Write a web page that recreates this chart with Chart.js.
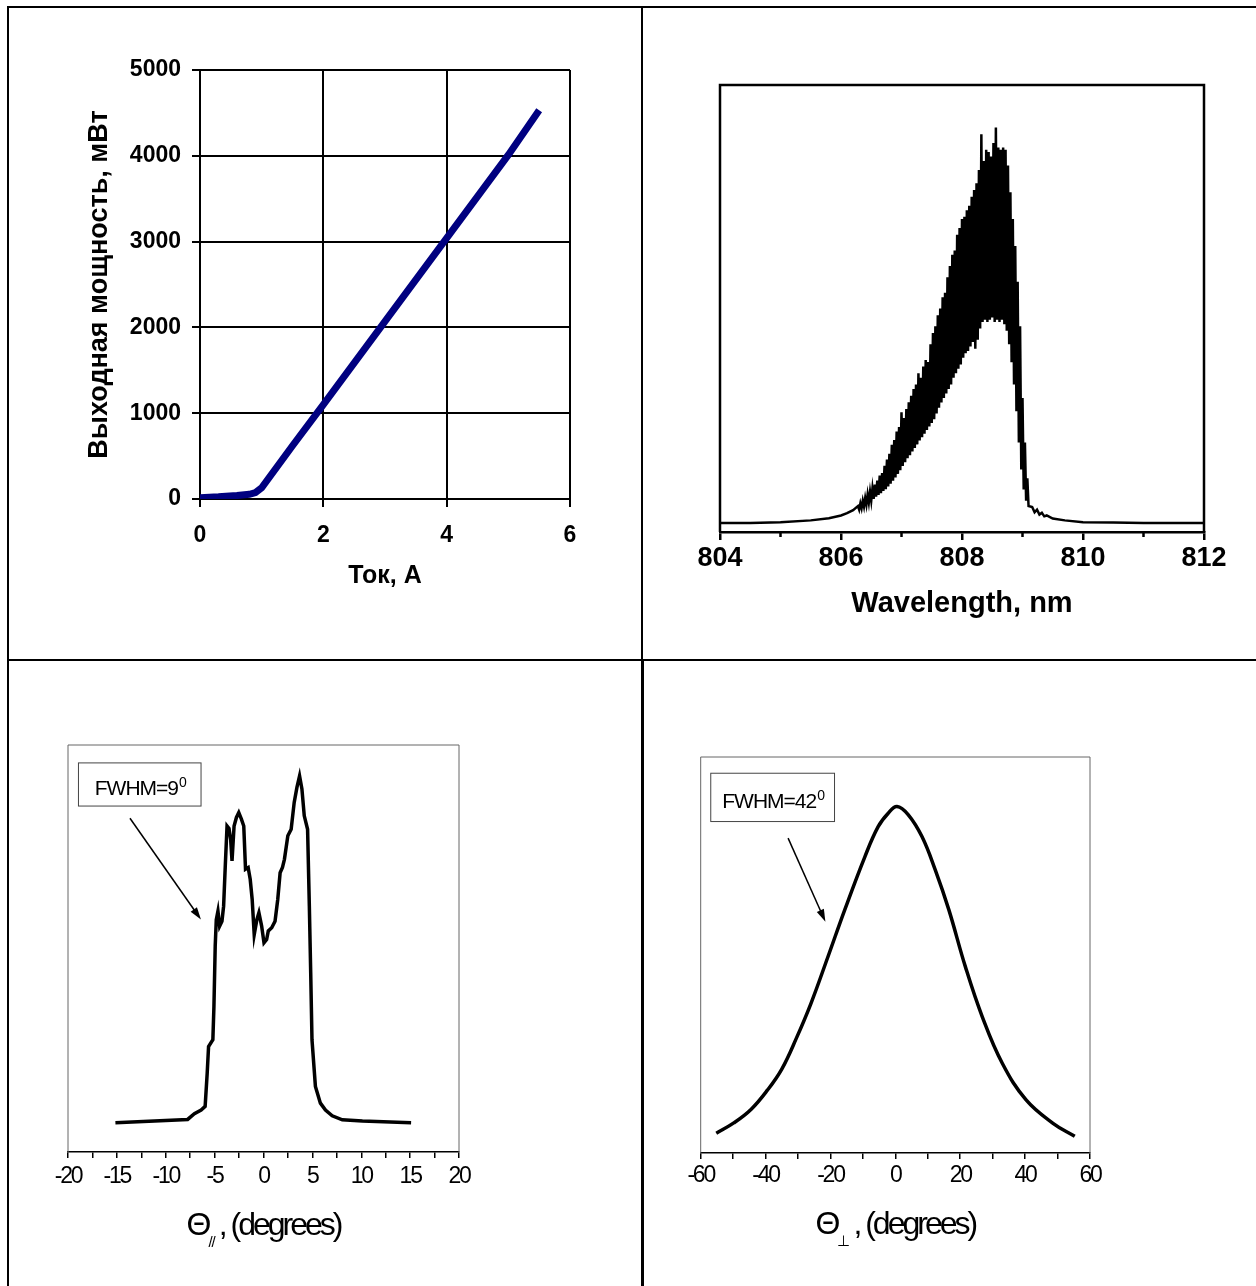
<!DOCTYPE html>
<html>
<head>
<meta charset="utf-8">
<script src="https://cdn.jsdelivr.net/npm/chart.js@4.4.1/dist/chart.umd.min.js"></script>
<style>
  html, body { margin: 0; background: #fff; overflow: hidden; }
  .rule { position: absolute; background: #000; }
  .cell { position: absolute; }
</style>
</head>
<body>
<div class="rule" style="left:7px;top:6px;width:1249px;height:2px"></div>
<div class="rule" style="left:7px;top:6px;width:2px;height:1280px"></div>
<div class="rule" style="left:641px;top:6px;width:2px;height:653px"></div>
<div class="rule" style="left:641px;top:659px;width:3px;height:627px"></div>
<div class="rule" style="left:7px;top:659px;width:1249px;height:2px"></div>

<div class="cell" style="left:9px;top:8px;width:632px;height:651px"><canvas id="lic"></canvas></div>
<div class="cell" style="left:643px;top:8px;width:613px;height:651px"><canvas id="spectrum"></canvas></div>
<div class="cell" style="left:9px;top:661px;width:632px;height:625px"><canvas id="farPar"></canvas></div>
<div class="cell" style="left:644px;top:661px;width:612px;height:625px"><canvas id="farPerp"></canvas></div>

<script>
// L-I curve
const currentA = [0, 0.3, 0.6, 0.8, 0.9, 1.0, 1.5, 2, 3, 4, 5, 5.5]
const powerMW = [15, 25, 40, 55, 75, 130, 620, 1100, 2070, 3040, 4010, 4530]

// spectrum (relative units), fringes sampled every 0.02 nm
const specWl = [804.0, 804.5, 805.0, 805.5, 805.8, 806.0, 806.1, 806.2,
  806.28, 806.30, 806.32, 806.34, 806.36, 806.38, 806.40, 806.42, 806.44, 806.46,
  806.48, 806.50, 806.52, 806.54, 806.56, 806.58, 806.60, 806.62, 806.64, 806.66,
  806.68, 806.70, 806.72, 806.74, 806.76, 806.78, 806.80, 806.82, 806.84, 806.86,
  806.88, 806.90, 806.92, 806.94, 806.96, 806.98, 807.00, 807.02, 807.04, 807.06,
  807.08, 807.10, 807.12, 807.14, 807.16, 807.18, 807.20, 807.22, 807.24, 807.26,
  807.28, 807.30, 807.32, 807.34, 807.36, 807.38, 807.40, 807.42, 807.44, 807.46,
  807.48, 807.50, 807.52, 807.54, 807.56, 807.58, 807.60, 807.62, 807.64, 807.66,
  807.68, 807.70, 807.72, 807.74, 807.76, 807.78, 807.80, 807.82, 807.84, 807.86,
  807.88, 807.90, 807.92, 807.94, 807.96, 807.98, 808.00, 808.02, 808.04, 808.06,
  808.08, 808.10, 808.12, 808.14, 808.16, 808.18, 808.20, 808.22, 808.24, 808.26,
  808.28, 808.30, 808.32, 808.34, 808.36, 808.38, 808.40, 808.42, 808.44, 808.46,
  808.48, 808.50, 808.52, 808.54, 808.56, 808.58, 808.60, 808.62, 808.64, 808.66,
  808.68, 808.70, 808.72, 808.74, 808.76, 808.78, 808.80, 808.82, 808.84, 808.86,
  808.88, 808.90, 808.92, 808.94, 808.96, 808.98, 809.00, 809.02, 809.04, 809.06,
  809.08, 809.10,
  809.16, 809.20, 809.24, 809.28, 809.32, 809.36, 809.40, 809.50,
  809.70, 810.0, 810.5, 811.0, 812.0]
const specInt = [2.0, 2.0, 2.2, 2.6, 3.1, 3.7, 4.2, 4.9,
  5.8, 5.0, 6.4, 5.3, 7.0, 5.7, 7.6, 6.1, 8.4, 6.6,
  9.0, 7.0, 9.8, 7.4, 10.6, 7.9, 11.5, 8.3, 12.6, 8.7,
  13.2, 9.2, 14.8, 9.6, 16.2, 10.2, 17.5, 10.8, 19.5, 11.5,
  20.6, 12.2, 22.5, 13.0, 23.5, 13.8, 26.8, 14.8, 25.5, 15.6,
  27.5, 16.5, 29.0, 17.2, 30.5, 18.0, 32.0, 18.8, 33.0, 19.6,
  35.5, 20.5, 34.5, 21.2, 37.0, 22.0, 38.5, 22.8, 38.0, 23.6,
  42.0, 24.4, 44.5, 25.2, 46.0, 26.5, 48.5, 27.8, 50.0, 29.0,
  52.5, 30.0, 53.5, 31.0, 57.0, 32.0, 59.5, 33.0, 62.0, 34.5,
  63.0, 35.5, 66.5, 36.5, 68.0, 37.5, 70.0, 39.0, 70.5, 40.0,
  72.0, 40.5, 73.0, 41.5, 75.0, 42.5, 76.5, 41.0, 78.0, 43.0,
  81.0, 45.5, 89.0, 47.0, 83.0, 47.5, 85.5, 47.0, 85.0, 47.5,
  84.0, 48.0, 87.0, 47.0, 90.5, 47.5, 86.0, 47.0, 85.5, 47.5,
  86.0, 46.5, 85.5, 45.0, 82.0, 42.0, 76.0, 38.0, 70.0, 33.0,
  64.0, 27.0, 56.0, 20.0, 46.0, 14.0, 30.0, 9.5, 20.0, 7.0,
  12.0, 5.8,
  5.6, 4.4, 5.0, 3.9, 4.3, 3.5, 3.7, 3.0,
  2.6, 2.2, 2.1, 2.0, 2.0]
const specMinor = [805, 807, 809, 811]

// far field, slow axis
const parDeg = [-15.15, -7.76, -7.07, -6.38, -5.97, -5.76, -5.62, -5.18, -5.07, -4.94,
  -4.83, -4.66, -4.49, -4.25, -4.08, -3.91, -3.73, -3.53, -3.36, -3.22,
  -3.01, -2.77, -2.53, -2.26, -2.02, -1.84, -1.57, -1.36, -1.16, -0.95,
  -0.68, -0.47, -0.19, 0.05, 0.32, 0.49, 0.84, 1.18, 1.46, 1.70,
  1.94, 2.14, 2.49, 2.83, 3.14, 3.42, 3.69, 3.93, 4.17, 4.51,
  4.69, 4.83, 4.96, 5.31, 5.82, 6.34, 7.03, 8.06, 10.12, 15.1]
const parInt = [7.2, 8.0, 9.4, 10.3, 11.2, 19.4, 25.9, 27.6, 35.8, 50.6,
  57.1, 59.2, 55.5, 56.7, 60.4, 70.3, 80.1, 79.5, 76.8, 71.5,
  80.1, 82.2, 83.4, 81.8, 80.1, 69.5, 69.9, 67.0, 62.1, 53.4,
  57.1, 58.8, 55.5, 51.4, 52.2, 54.3, 55.1, 56.7, 62.1, 68.6,
  69.9, 71.9, 77.7, 79.3, 85.9, 89.6, 92.4, 89.2, 82.6, 79.3,
  60.4, 44.0, 27.6, 16.1, 12.0, 10.3, 8.9, 7.9, 7.6, 7.2]

// far field, fast axis
const perpDeg = [-55.2, -49.8, -44.5, -39.5, -35.0, -30.5, -26.0, -20.8, -15.6, -9.4,
  -5.3, -2.2, 0.5, 4.0, 8.2, 12.3, 16.5, 21.6, 26.8, 33.0,
  40.3, 48.6, 55.3]
const perpInt = [5.0, 7.6, 11.0, 15.8, 21.2, 29.0, 37.8, 49.5, 61.4, 74.8,
  82.4, 85.8, 87.5, 85.4, 79.9, 71.5, 61.4, 47.0, 34.4, 22.6,
  13.4, 7.5, 4.2]

const SANS = '"Liberation Sans", Arial, sans-serif'

Chart.defaults.font.family = SANS
Chart.defaults.color = '#000'

const pts = (xs, ys) => xs.map((x, i) => ({ x, y: ys[i] }))

// frame, minor ticks, note box, arrow and subscripted axis title
function extras(opt) {
  return {
    id: 'extras',
    beforeDraw(chart) {
      // squeeze the tick labels like the narrow face of the original
      chart.ctx.letterSpacing = opt.spacing || '0px'
    },
    beforeDatasetsDraw(chart) {
      if (!opt.frame) return
      const { ctx, chartArea: a } = chart
      ctx.save()
      ctx.strokeStyle = opt.frame.color
      ctx.lineWidth = opt.frame.width
      ctx.beginPath()
      ctx.moveTo(a.left, a.bottom)
      ctx.lineTo(a.left, a.top)
      ctx.lineTo(a.right, a.top)
      ctx.lineTo(a.right, a.bottom)
      ctx.stroke()
      ctx.restore()
    },
    afterDraw(chart) {
      const { ctx, chartArea: a, scales: { x, y } } = chart
      ctx.save()
      ctx.fillStyle = '#000'
      ctx.strokeStyle = '#000'

      if (opt.minor) {
        ctx.lineWidth = opt.minor.width
        for (const v of opt.minor.values) {
          const px = x.getPixelForValue(v)
          ctx.beginPath()
          ctx.moveTo(px, a.bottom)
          ctx.lineTo(px, a.bottom + opt.minor.length)
          ctx.stroke()
        }
      }

      if (opt.note) {
        const n = opt.note
        const l = x.getPixelForValue(n.x0), r = x.getPixelForValue(n.x1)
        const t = y.getPixelForValue(n.y0), b = y.getPixelForValue(n.y1)
        ctx.strokeStyle = '#444'
        ctx.lineWidth = 1
        ctx.strokeRect(l, t, r - l, b - t)
        ctx.letterSpacing = '-1px'
        ctx.font = `21px ${SANS}`
        const w1 = ctx.measureText(n.text).width
        ctx.font = `14px ${SANS}`
        const w2 = ctx.measureText(n.sup).width
        const sx = (l + r) / 2 - (w1 + w2) / 2
        const base = (t + b) / 2 + 11
        ctx.textAlign = 'left'
        ctx.textBaseline = 'alphabetic'
        ctx.font = `21px ${SANS}`
        ctx.fillText(n.text, sx, base)
        ctx.font = `14px ${SANS}`
        ctx.fillText(n.sup, sx + w1 + 1, base - 8)
      }

      if (opt.arrow) {
        const [v0, w0, v1, w1] = opt.arrow
        const x0 = x.getPixelForValue(v0), y0 = y.getPixelForValue(w0)
        const x1 = x.getPixelForValue(v1), y1 = y.getPixelForValue(w1)
        const ang = Math.atan2(y1 - y0, x1 - x0)
        ctx.strokeStyle = '#000'
        ctx.lineWidth = 1.5
        ctx.beginPath()
        ctx.moveTo(x0, y0)
        ctx.lineTo(x1 - 8 * Math.cos(ang), y1 - 8 * Math.sin(ang))
        ctx.stroke()
        ctx.beginPath()
        ctx.moveTo(x1, y1)
        ctx.lineTo(x1 - 13 * Math.cos(ang - 0.3), y1 - 13 * Math.sin(ang - 0.3))
        ctx.lineTo(x1 - 13 * Math.cos(ang + 0.3), y1 - 13 * Math.sin(ang + 0.3))
        ctx.closePath()
        ctx.fill()
      }

      if (opt.title) {
        const tt = opt.title
        ctx.textAlign = 'left'
        ctx.textBaseline = 'alphabetic'
        ctx.letterSpacing = '-3px'
        ctx.font = `32px ${SANS}`
        const wa = ctx.measureText(tt.main).width
        const wc = ctx.measureText(tt.rest).width
        ctx.letterSpacing = '-1px'
        ctx.font = `15px ${SANS}`
        const wb = ctx.measureText(tt.sub).width
        const sx = (a.left + a.right) / 2 - (wa + wb + 4 + wc) / 2
        ctx.fillText(tt.sub, sx + wa, tt.y + 12)
        ctx.letterSpacing = '-3px'
        ctx.font = `32px ${SANS}`
        ctx.fillText(tt.main, sx, tt.y)
        ctx.fillText(tt.rest, sx + wa + wb + 4, tt.y)
      }
      ctx.restore()
    }
  }
}

const base = {
  animation: false,
  responsive: true,
  maintainAspectRatio: false,
  plugins: { legend: { display: false }, tooltip: { enabled: false } },
}

new Chart(document.getElementById('lic'), {
  type: 'line',
  data: {
    datasets: [{
      data: pts(currentA, powerMW),
      borderColor: '#000080',
      borderWidth: 7,
      pointRadius: 0,
      tension: 0,
    }]
  },
  options: {
    ...base,
    layout: { padding: { left: 74, top: 62, right: 71, bottom: 68 } },
    scales: {
      x: {
        type: 'linear', min: 0, max: 6,
        afterFit: s => { s.height = 92 },
        ticks: { stepSize: 2, padding: 15, font: { size: 23, weight: 'bold' }, callback: v => String(v) },
        grid: { color: '#000', lineWidth: 2, tickLength: 8 },
        border: { color: '#000', width: 2 },
        title: { display: true, text: 'Ток, А', padding: 0, font: { size: 25, weight: 'bold' } },
      },
      y: {
        min: 0, max: 5000,
        afterFit: s => { s.width = 117 },
        ticks: { stepSize: 1000, padding: 11, font: { size: 23, weight: 'bold' }, callback: v => String(v) },
        grid: { color: '#000', lineWidth: 2, tickLength: 8 },
        border: { color: '#000', width: 2 },
        title: { display: true, text: 'Выходная мощность, мВт', padding: 0, font: { size: 27, weight: 'bold' } },
      }
    }
  }
})

new Chart(document.getElementById('spectrum'), {
  type: 'line',
  data: {
    datasets: [{
      data: pts(specWl, specInt),
      borderColor: '#000',
      borderWidth: 2.5,
      pointRadius: 0,
      tension: 0,
    }]
  },
  options: {
    ...base,
    layout: { padding: { left: 77, top: 77, right: 52, bottom: 37.6 } },
    scales: {
      x: {
        type: 'linear', min: 804, max: 812,
        afterFit: s => { s.height = 89.4 },
        ticks: { stepSize: 2, padding: 2, font: { size: 27, weight: 'bold' } },
        grid: { drawOnChartArea: false, color: '#000', lineWidth: 2.5, tickLength: 8 },
        border: { color: '#000', width: 2.5 },
        title: { display: true, text: 'Wavelength, nm', padding: 0, font: { size: 29, weight: 'bold' } },
      },
      y: { display: false, min: 0, max: 100 }
    }
  },
  plugins: [extras({
    frame: { color: '#000', width: 2.5 },
    minor: { values: specMinor, length: 5, width: 2.5 },
  })]
})

new Chart(document.getElementById('farPar'), {
  type: 'line',
  data: {
    datasets: [{
      data: pts(parDeg, parInt),
      borderColor: '#000',
      borderWidth: 3.5,
      pointRadius: 0,
      tension: 0,
    }]
  },
  options: {
    ...base,
    layout: { padding: { left: 59, top: 84, right: 182, bottom: 74 } },
    scales: {
      x: {
        type: 'linear', min: -20, max: 20,
        afterFit: s => { s.height = 60 },
        ticks: {
          stepSize: 2.5, padding: 5, autoSkip: false, maxRotation: 0,
          font: { size: 23 },
          callback: v => v % 5 === 0 ? String(v) : '',
        },
        grid: { drawOnChartArea: false, color: '#000', lineWidth: 1.5, tickLength: 6 },
        border: { color: '#000', width: 1.5 },
      },
      y: { display: false, min: 0, max: 100 }
    }
  },
  plugins: [extras({
    spacing: '-2.2px',
    frame: { color: '#666', width: 1 },
    note: { x0: -18.93, x1: -6.39, y0: 95.6, y1: 85.0, text: 'FWHM=9', sup: '0' },
    arrow: [-13.66, 82.0, -6.4, 57.1],
    title: { main: 'Θ', sub: '//', rest: ', (degrees)', y: 574 },
  })]
})

new Chart(document.getElementById('farPerp'), {
  type: 'line',
  data: {
    datasets: [{
      data: pts(perpDeg, perpInt),
      borderColor: '#000',
      borderWidth: 3.5,
      pointRadius: 0,
      tension: 0.4,
    }]
  },
  options: {
    ...base,
    layout: { padding: { left: 56.7, top: 96, right: 166, bottom: 73 } },
    scales: {
      x: {
        type: 'linear', min: -60, max: 60,
        afterFit: s => { s.height = 60 },
        ticks: {
          stepSize: 10, padding: 3, autoSkip: false, maxRotation: 0,
          font: { size: 23 },
          callback: v => v % 20 === 0 ? String(v) : '',
        },
        grid: { drawOnChartArea: false, color: '#000', lineWidth: 1.5, tickLength: 6 },
        border: { color: '#000', width: 1.5 },
      },
      y: { display: false, min: 0, max: 100 }
    }
  },
  plugins: [extras({
    spacing: '-2.2px',
    frame: { color: '#666', width: 1 },
    note: { x0: -56.9, x1: -18.75, y0: 95.9, y1: 83.7, text: 'FWHM=42', sup: '0' },
    arrow: [-33.06, 79.5, -21.56, 58.4],
    title: { main: 'Θ', sub: '⊥', rest: ', (degrees)', y: 573 },
  })]
})
</script>
</body>
</html>
